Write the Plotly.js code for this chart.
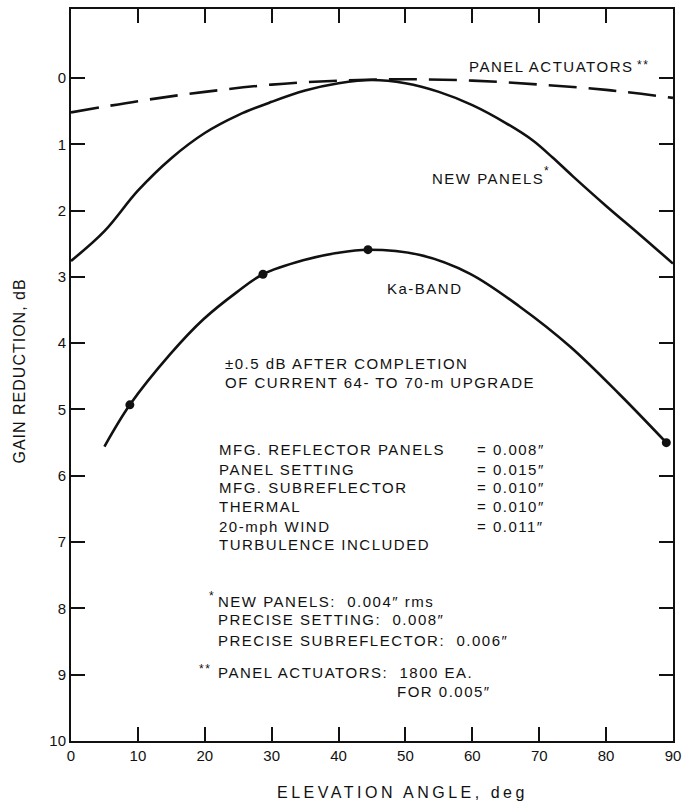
<!DOCTYPE html>
<html>
<head>
<meta charset="utf-8">
<script src="https://cdn.plot.ly/plotly-3.0.1.min.js"></script>
<style>
  html, body { margin: 0; padding: 0; background: #fff; }
  #chart { width: 689px; height: 805px; }
  .annotation-text { letter-spacing: 1.5px; }
  .annotation[data-index="0"] text { letter-spacing: 3.5px; }
  .annotation[data-index="1"] text { letter-spacing: 1px; }
</style>
</head>
<body>
<div id="chart"></div>
<script>
// Elevation angle (deg) and gain reduction (dB)
const actuatorsX = [0, 10, 20, 30, 40, 50, 60, 70, 80, 90];
const actuatorsY = [0.52, 0.35, 0.21, 0.10, 0.04, 0.02, 0.04, 0.10, 0.18, 0.30];

const newPanelsX = [0, 5, 10, 15, 20, 25, 30, 35, 40, 45, 50, 55, 60, 65, 69, 72, 75, 80, 85, 90];
const newPanelsY = [2.76, 2.31, 1.70, 1.21, 0.83, 0.56, 0.36, 0.19, 0.08, 0.03, 0.08, 0.21, 0.41, 0.68, 0.94, 1.20, 1.48, 1.93, 2.36, 2.80];

const kaBandX = [5, 8.8, 14.8, 19.8, 24.8, 28.7, 34.7, 39.7, 44.4, 52.2, 59.6, 67.1, 74.6, 82, 89];
const kaBandY = [5.56, 4.93, 4.17, 3.64, 3.23, 2.96, 2.75, 2.64, 2.59, 2.67, 2.95, 3.45, 4.05, 4.77, 5.50];

const kaPointsX = [8.8, 28.7, 44.4, 89];
const kaPointsY = [4.93, 2.96, 2.59, 5.50];

const xTicks = [0, 10, 20, 30, 40, 50, 60, 70, 80, 90];
const yTicks = [0, 1, 2, 3, 4, 5, 6, 7, 8, 9, 10];

const FONT = 'Liberation Sans, Arial, Helvetica, sans-serif';
const INK = '#111';

const traces = [
  { x: actuatorsX, y: actuatorsY, mode: 'lines', line: { color: INK, width: 2.6, dash: '28px,12px', shape: 'spline', smoothing: 1 }, hoverinfo: 'skip' },
  { x: newPanelsX, y: newPanelsY, mode: 'lines', line: { color: INK, width: 2.6, shape: 'spline', smoothing: 1 }, hoverinfo: 'skip' },
  { x: kaBandX, y: kaBandY, mode: 'lines', line: { color: INK, width: 2.6, shape: 'spline', smoothing: 1 }, hoverinfo: 'skip' },
  { x: kaPointsX, y: kaPointsY, mode: 'markers', marker: { color: INK, size: 9 }, hoverinfo: 'skip', cliponaxis: false }
];

function txt(text, x, y, size) {
  return {
    text: text, x: x, y: y, xref: 'x', yref: 'y',
    xanchor: 'left', yanchor: 'middle', align: 'left',
    showarrow: false, font: { family: FONT, size: size || 15, color: INK }
  };
}

const annotations = [
  // 0: x-axis title
  { text: 'ELEVATION ANGLE, deg', x: 49.5, y: -0.0697, xref: 'x', yref: 'paper',
    xanchor: 'center', yanchor: 'middle', align: 'center', showarrow: false,
    font: { family: FONT, size: 16, color: INK } },
  // 1: y-axis title
  { text: 'GAIN REDUCTION, dB', x: -0.0864, y: 4.42, xref: 'paper', yref: 'y',
    xanchor: 'center', yanchor: 'middle', align: 'center', textangle: -90, showarrow: false,
    font: { family: FONT, size: 16, color: INK } },
  txt('PANEL ACTUATORS', 59.2, -0.17),
  txt('**', 84.3, -0.20, 12),
  txt('NEW PANELS', 53.7, 1.51),
  txt('*', 70.4, 1.40, 12),
  txt('Ka-BAND', 46.9, 3.18),
  txt('±0.5 dB AFTER COMPLETION', 22.7, 4.30),
  txt('OF CURRENT 64- TO 70-m UPGRADE', 22.7, 4.59),
  txt('MFG. REFLECTOR PANELS', 21.8, 5.61),
  txt('PANEL SETTING', 21.8, 5.90),
  txt('MFG. SUBREFLECTOR', 21.8, 6.18),
  txt('THERMAL', 21.8, 6.47),
  txt('20-mph WIND', 21.8, 6.76),
  txt('TURBULENCE INCLUDED', 21.8, 7.04),
  txt('= 0.008″', 60.4, 5.61),
  txt('= 0.015″', 60.4, 5.90),
  txt('= 0.010″', 60.4, 6.18),
  txt('= 0.010″', 60.4, 6.47),
  txt('= 0.011″', 60.4, 6.76),
  txt('*', 20.4, 7.81, 12),
  txt('NEW PANELS:  0.004″ rms', 21.7, 7.90),
  txt('PRECISE SETTING:  0.008″', 21.7, 8.17),
  txt('PRECISE SUBREFLECTOR:  0.006″', 21.7, 8.48),
  txt('**', 18.8, 8.91, 12),
  txt('PANEL ACTUATORS:  1800 EA.', 21.7, 8.96),
  txt('FOR 0.005″', 48.4, 9.26)
];

const axisCommon = {
  showgrid: false, zeroline: false, showline: true, linecolor: INK, linewidth: 2,
  mirror: 'ticks', ticks: 'inside', ticklen: 14, tickwidth: 2, tickcolor: INK,
  tickfont: { family: FONT, size: 15, color: INK }, fixedrange: true
};

const layout = {
  width: 689, height: 805,
  margin: { l: 71, r: 16, t: 9, b: 64, pad: 0 },
  paper_bgcolor: '#fff', plot_bgcolor: '#fff',
  showlegend: false,
  xaxis: Object.assign({}, axisCommon, { range: [0, 90], tickvals: xTicks, ticktext: xTicks.map(String) }),
  yaxis: Object.assign({}, axisCommon, { range: [10, -1.04], tickvals: yTicks, ticktext: yTicks.map(String) }),
  annotations: annotations
};

Plotly.newPlot('chart', traces, layout, { staticPlot: true, displayModeBar: false });
</script>
</body>
</html>
